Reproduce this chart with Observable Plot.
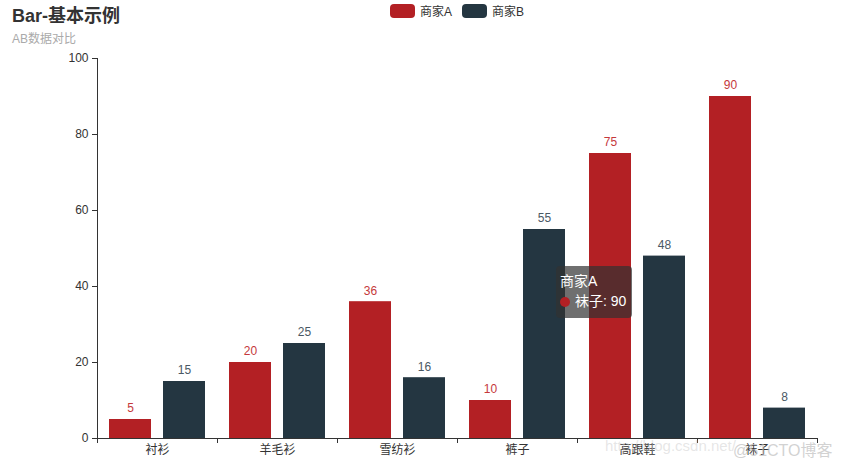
<!DOCTYPE html>
<html><head><meta charset="utf-8">
<script src="https://cdn.jsdelivr.net/npm/d3@7"></script>
<script src="https://cdn.jsdelivr.net/npm/@observablehq/plot@0.6"></script>
<style>
body{margin:0;background:#fff;font-family:"Liberation Sans","Noto Sans CJK SC",sans-serif;}
#wrap{position:relative;width:842px;height:467px;overflow:hidden;}
#title{position:absolute;left:12px;top:1px;font-size:18px;font-weight:bold;color:#333;}
#sub{position:absolute;left:12px;top:29px;font-size:12px;color:#aaa;}
#legend{position:absolute;left:390px;top:2px;font-size:12px;color:#333;display:flex;gap:10px;}
.li{display:flex;align-items:center;gap:5px;}
.sw{width:25px;height:14px;border-radius:4px;display:inline-block;}
#tip{position:absolute;left:556px;top:266px;width:76px;height:52px;background:rgba(50,50,50,0.7);border-radius:4px;color:#fff;font-size:14px;box-sizing:border-box;padding:5px 4px;line-height:20px;white-space:nowrap;overflow:visible;}
.dot{display:inline-block;width:10px;height:10px;border-radius:5px;margin-right:5px;vertical-align:-1px;}
#wm{position:absolute;left:605px;top:437px;font-size:15px;color:rgba(200,200,200,0.45);white-space:nowrap;}
#wm2{position:absolute;left:733px;top:437px;font-size:16px;color:rgba(190,190,190,0.7);white-space:nowrap;}
</style></head>
<body><div id="wrap"><div id="chart"></div>
<div id="title"></div><div id="sub"></div><div id="legend"></div><div id="tip"></div>
<div id="wm">http://blog.csdn.net/</div><div id="wm2">@51CTO博客</div></div>
<script>
const title = "Bar-基本示例";
const subtitle = "AB数据对比";
const categories = ["衬衫","羊毛衫","雪纺衫","裤子","高跟鞋","袜子"];
const seriesNames = ["商家A","商家B"];
const valuesA = [5,20,36,10,75,90];
const valuesB = [15,25,16,55,48,8];
const colors = ["#b32024","#243641"];
const labelColors = ["#c5383b","#4a5864"];
const yTicks = [0,20,40,60,80,100];
const tooltip = {series:"商家A", category:"袜子", value:90};

const rows = [];
categories.forEach((c,i)=>{
  rows.push({i, cat:c, s:seriesNames[0], v:valuesA[i]});
  rows.push({i, cat:c, s:seriesNames[1], v:valuesB[i]});
});
const A = rows.filter(d=>d.s===seriesNames[0]);
const B = rows.filter(d=>d.s===seriesNames[1]);
const idx = d3.range(categories.length+1);
const mids = categories.map((c,i)=>i+0.5);

const plot = Plot.plot({
  width:842, height:467,
  marginLeft:97, marginRight:25, marginTop:58, marginBottom:29,
  style:{fontFamily:'"Liberation Sans","Noto Sans CJK SC",sans-serif', fontSize:"12px", color:"#333", background:"#fff"},
  x:{domain:[0,categories.length]},
  y:{domain:[0,100]},
  marks:[
    Plot.rectY(A,{x1:d=>d.i,x2:d=>d.i+1,y:"v",fill:colors[0],insetLeft:12,insetRight:66}),
    Plot.rectY(B,{x1:d=>d.i,x2:d=>d.i+1,y:"v",fill:colors[1],insetLeft:66,insetRight:12}),
    Plot.text(A,{x:d=>d.i+0.5,y:"v",text:d=>String(d.v),dx:-27,dy:-11,fill:labelColors[0],fontSize:12}),
    Plot.text(B,{x:d=>d.i+0.5,y:"v",text:d=>String(d.v),dx:27,dy:-11,fill:labelColors[1],fontSize:12}),
    Plot.axisY({ticks:yTicks,tickSize:5,tickPadding:4,label:null,stroke:"#333",fill:"#333",fontSize:12}),
    Plot.axisX({ticks:idx,tickSize:5,tickFormat:()=>"",label:null,stroke:"#333"}),
    Plot.axisX({ticks:mids,tickSize:0,tickPadding:7,tickFormat:(d)=>categories[Math.floor(d)],label:null,fill:"#333",fontSize:12}),
    Plot.ruleX([0],{stroke:"#333"}),
    Plot.ruleY([0],{stroke:"#333"})
  ]
});
document.getElementById("chart").appendChild(plot);
document.getElementById("title").textContent = title;
document.getElementById("sub").textContent = subtitle;
const lg = document.getElementById("legend");
seriesNames.forEach((n,k)=>{
  const it=document.createElement("div");it.className="li";
  it.innerHTML=`<span class="sw" style="background:${colors[k]}"></span><span>${n}</span>`;
  lg.appendChild(it);
});
const tip=document.getElementById("tip");
tip.innerHTML=`<div>${tooltip.series}</div><div><span class="dot" style="background:${colors[0]}"></span>${tooltip.category}: ${tooltip.value}</div>`;
</script></body></html>
